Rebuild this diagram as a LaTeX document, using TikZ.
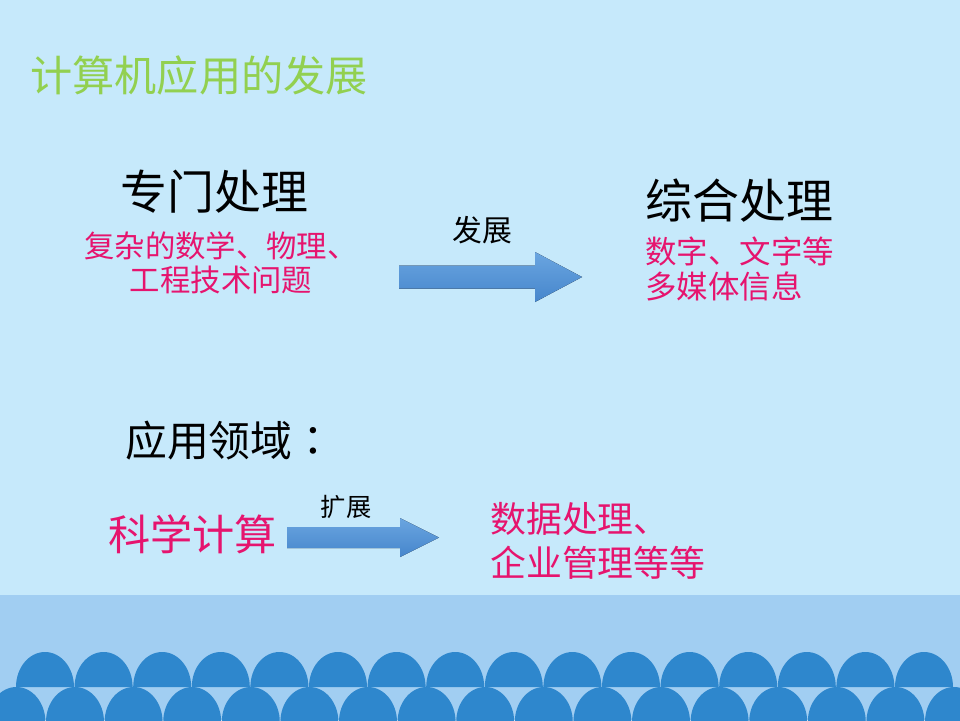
\documentclass[tikz,border=0pt]{standalone}
\usepackage{fontspec}
\setmainfont{Noto Sans CJK SC}
\newfontfamily\tcfont{Noto Sans CJK TC}
\usepackage{tikz}
\usetikzlibrary{positioning}
\usepackage{xcolor}
\definecolor{slidebg}{RGB}{198,233,251}
\definecolor{bandbg}{RGB}{161,206,242}
\definecolor{wave}{RGB}{46,135,205}
\definecolor{titlegreen}{RGB}{146,208,80}
\definecolor{hotpink}{RGB}{230,20,110}
\definecolor{arrowtop}{RGB}{106,165,224}
\definecolor{arrowbot}{RGB}{70,134,204}

\begin{document}
\begin{tikzpicture}[x=0.02cm,y=-0.02cm,
  blockarrow/.style={top color=arrowtop,bottom color=arrowbot},
  head/.style={anchor=west,inner sep=0pt,text=black},
  note/.style={inner sep=0pt,text=hotpink}]
\clip (0,0) rectangle (960,720);
\fill[slidebg] (0,0) rectangle (960,720);
\fill[bandbg] (0,595) rectangle (960,720);
% waves along the bottom
\foreach \i in {0,...,15}
  \fill[wave] ({16+58.6*\i},687) arc[start angle=180,end angle=360,x radius=29,y radius=35] -- cycle;
\foreach \i in {0,...,16}
  \fill[wave] ({-12.6+58.6*\i},722) arc[start angle=180,end angle=360,x radius=29,y radius=35] -- cycle;

\node[head,text=titlegreen,font=\fontsize{24}{28}\selectfont] (title) at (30,75) {计算机应用的发展};

\node[head,font=\fontsize{26.7}{30}\selectfont] (special) at (120,192) {专门处理};
\node[note,align=center,font=\fontsize{17.3}{19.3}\selectfont] (specialnote) at (221,263) {复杂的数学、物理、\\工程技术问题};
\node[head,font=\fontsize{26.7}{30}\selectfont] (general) at (645,201) {综合处理};
\node[note,anchor=west,align=left,font=\fontsize{17.9}{20.4}\selectfont] (generalnote) at (645,269) {数字、文字等\\多媒体信息};
\fill[blockarrow] (399,265.5) -- (535,265.5) -- (535,252) -- (582,277) -- (535,302) -- (535,288.5) -- (399,288.5) -- cycle;
\node[inner sep=0pt,font=\fontsize{17}{20}\selectfont] (develop) at (482,230) {发展};

\node[head,font=\fontsize{23.8}{28}\selectfont] (fields) at (125,441) {应用领域{\tcfont ：}};
\node[note,anchor=west,font=\fontsize{24}{28}\selectfont] (science) at (108,534) {科学计算};
\fill[blockarrow] (287,527) -- (400,527) -- (400,518) -- (439,537.5) -- (400,557) -- (400,548) -- (287,548) -- cycle;
\node[inner sep=0pt,font=\fontsize{14.4}{17}\selectfont] (expand) at (346,507) {扩展};
\node[note,anchor=west,align=left,font=\fontsize{20.4}{25}\selectfont] (business) at (490,541) {数据处理、\\企业管理等等};
\end{tikzpicture}
\end{document}
